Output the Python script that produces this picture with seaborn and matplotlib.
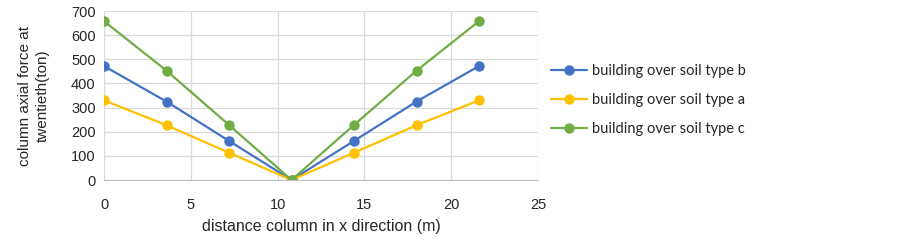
import pandas as pd
import matplotlib.pyplot as plt
import seaborn as sns

# data
distance = [0, 3.6, 7.2, 10.8, 14.4, 18, 21.6]
soil_b = [472, 325, 162, 0, 162, 325, 472]
soil_a = [330, 227, 113, 0, 113, 227, 330]
soil_c = [658, 453, 228, 0, 228, 453, 658]
series_names = ["building over soil type b",
                "building over soil type a",
                "building over soil type c"]
colors = ["#4472C4", "#FFC000", "#70AD47"]

# long-form table for seaborn
frames = []
for name, vals in zip(series_names, [soil_b, soil_a, soil_c]):
    frames.append(pd.DataFrame({"x": distance, "y": vals, "series": name}))
df = pd.concat(frames, ignore_index=True)

sns.set_style("whitegrid")
plt.rcParams['font.family'] = ['Liberation Sans', 'DejaVu Sans']

fig = plt.figure(figsize=(9.02, 2.4), dpi=100)
ax = fig.add_axes([0.1153, 0.25, 0.4812, 0.704])

sns.lineplot(data=df, x="x", y="y", hue="series", hue_order=series_names,
             palette=colors, marker="o", markersize=7.5, markeredgewidth=0,
             linewidth=1.6, ax=ax, legend=True)

ax.set_xlim(0, 25)
ax.set_ylim(0, 700)
ax.set_xticks(range(0, 26, 5))
ax.set_yticks(range(0, 701, 100))
ax.grid(True, color="#D9D9D9", linewidth=0.9)
for side in ["top", "right", "left"]:
    ax.spines[side].set_visible(False)
ax.spines["bottom"].set_color("#BFBFBF")
ax.tick_params(axis="x", labelsize=10.5, pad=13, length=0)
ax.tick_params(axis="y", labelsize=10.5, pad=6, length=0)
for t in ax.get_xticklabels() + ax.get_yticklabels():
    t.set_color("#262626")

ax.set_xlabel("distance column in x direction (m)", fontsize=11.5, color="#262626",
              labelpad=5)
ax.set_ylabel("column axial force at\ntwentieth(ton)", fontsize=11, color="#262626",
              labelpad=15, linespacing=1.4)

leg = ax.legend(loc="upper left", bbox_to_anchor=(1.016, 0.722), frameon=False,
                prop={"family": "Lato", "size": 10.5}, handlelength=2.5,
                labelspacing=1.05, handletextpad=0.3, borderaxespad=0)
for t in leg.get_texts():
    t.set_color("#262626")

plt.savefig("out.png", dpi=100)
plt.close()
